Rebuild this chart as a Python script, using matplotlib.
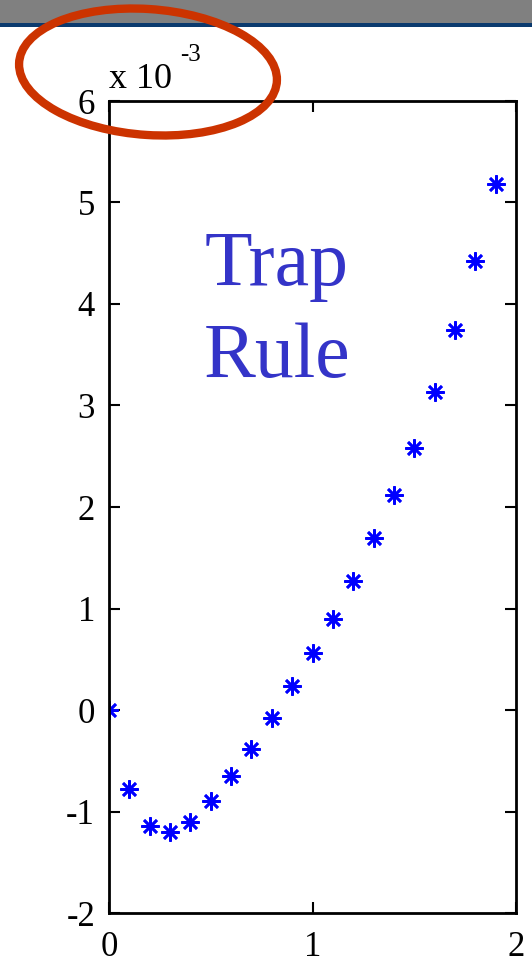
import numpy as np
import matplotlib.pyplot as plt
from matplotlib.patches import Ellipse, Rectangle

# error of the trapezoid rule against step position
x_vals = [0.0, 0.1, 0.2, 0.3, 0.4, 0.5, 0.6, 0.7, 0.8, 0.9,
          1.0, 1.1, 1.2, 1.3, 1.4, 1.5, 1.6, 1.7, 1.8, 1.9]
err_e3 = [0.0, -0.78, -1.14, -1.20, -1.10, -0.90, -0.65, -0.38, -0.08, 0.24,
          0.56, 0.90, 1.27, 1.69, 2.12, 2.58, 3.13, 3.74, 4.42, 5.18]
x_ticks = [0, 1, 2]
y_ticks = [-2, -1, 0, 1, 2, 3, 4, 5, 6]

plt.rcParams['font.family'] = ['Liberation Serif', 'DejaVu Serif']
plt.rcParams['axes.unicode_minus'] = False

fig = plt.figure(figsize=(5.32, 9.63), dpi=100)
W, H = 532, 963

# slide header strip
fig.patches.append(Rectangle((0, 1 - 23 / H), 1, 23 / H, transform=fig.transFigure,
                             facecolor='#808080', edgecolor='none', zorder=0))
fig.patches.append(Rectangle((0, 1 - 27 / H), 1, 4 / H, transform=fig.transFigure,
                             facecolor='#0b3a6e', edgecolor='none', zorder=0))

ax = fig.add_axes([109 / W, 50 / H, 407 / W, 812 / H])
ax.plot(x_vals, err_e3, linestyle='none', marker=(8, 2, 0), markersize=13,
        markeredgewidth=1.9, color='#0000ff')
ax.set_xlim(0, 2)
ax.set_ylim(-2, 6)
ax.set_xticks(x_ticks)
ax.set_yticks(y_ticks)
ax.tick_params(direction='in', length=8, width=1.5, top=True, right=True,
               labelsize=25, colors='black')
ax.tick_params(axis='y', pad=10)
ax.tick_params(axis='x', pad=13)
for s in ax.spines.values():
    s.set_linewidth(2)

ax.text(277 / W, 1 - 285 / H, 'Trap', transform=fig.transFigure, ha='center',
        va='baseline', fontsize=56, color='#3434c8')
ax.text(277 / W, 1 - 377 / H, 'Rule', transform=fig.transFigure, ha='center',
        va='baseline', fontsize=56, color='#3434c8')

# exponent label above the axis
fig.text(109 / W, 1 - 88 / H, 'x 10', fontsize=26, ha='left', va='baseline')
fig.text(180 / W, 1 - 61 / H, '-3', fontsize=18, ha='left', va='baseline')

# highlight ring around the exponent
ring = Ellipse((148 / W, 1 - 72 / H), 258 / W, 126 / H, angle=-2,
               transform=fig.transFigure, fill=False, edgecolor='#cc3300',
               linewidth=6)
fig.patches.append(ring)

fig.savefig('out.png', dpi=100)
